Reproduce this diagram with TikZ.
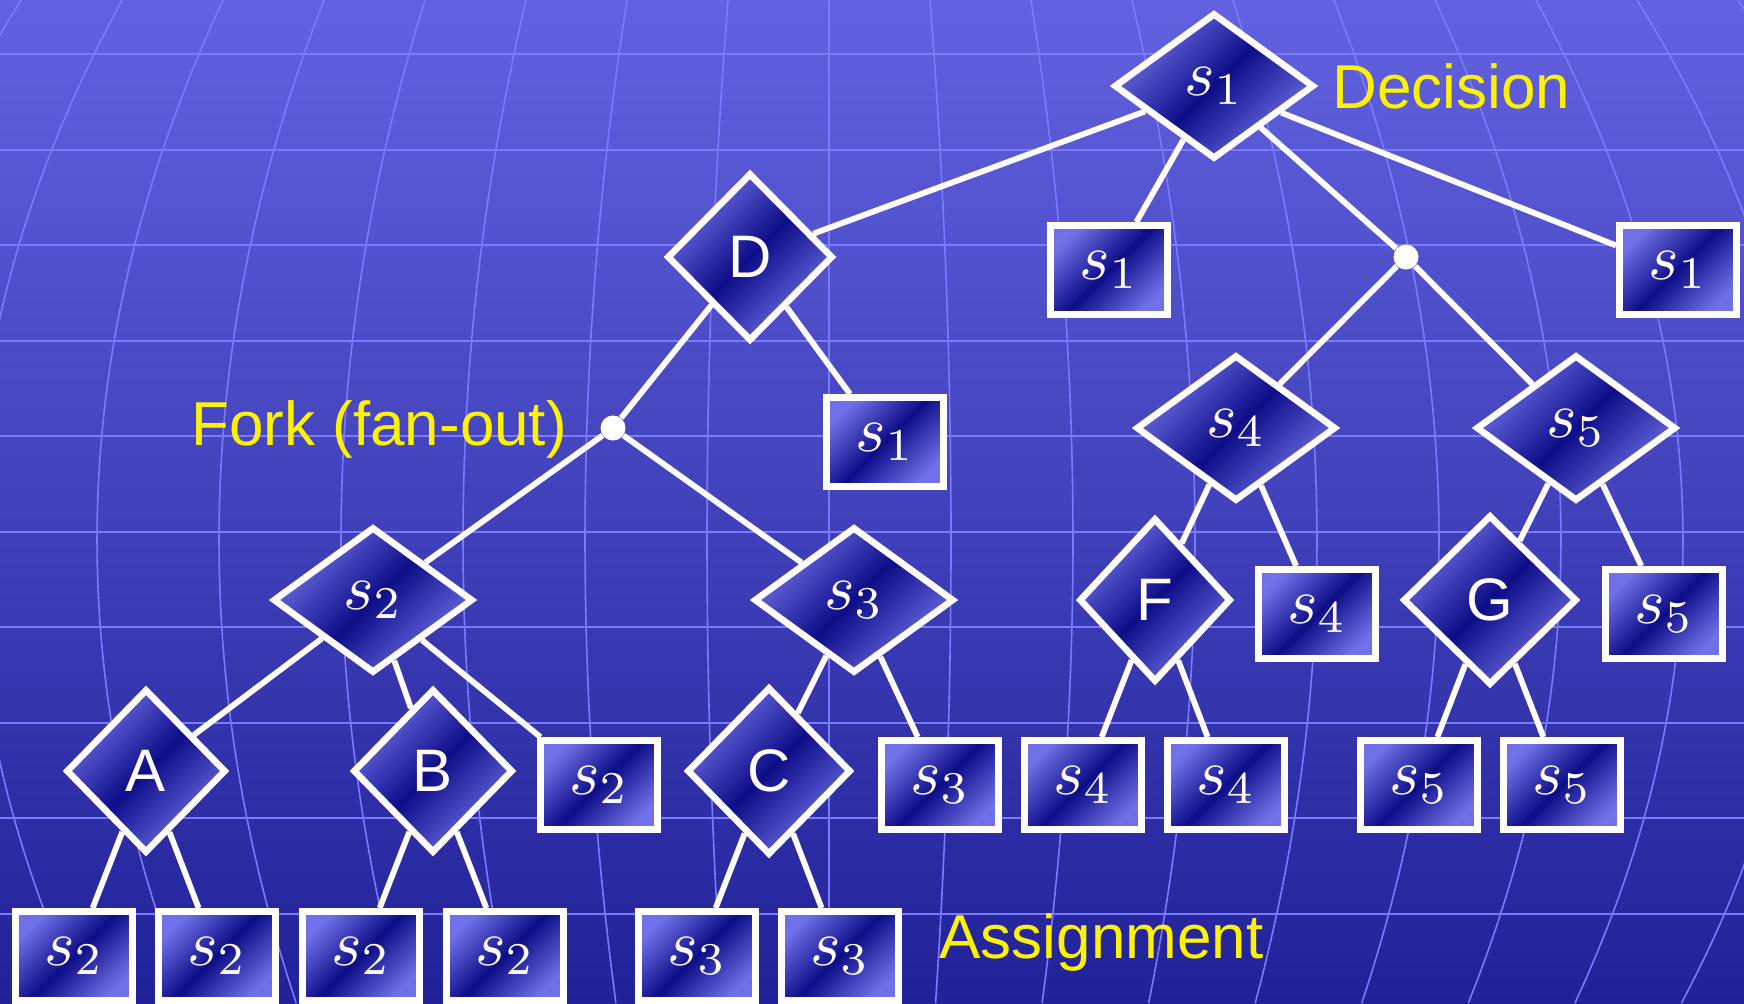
\RequirePackage{fix-cm}
\documentclass[tikz,border=0pt]{standalone}
\usepackage{fontspec}
\setsansfont{Liberation Sans}
\usepackage{tikz}
\usetikzlibrary{shapes.geometric}
\definecolor{bgtop}{RGB}{98,98,224}
\definecolor{bgbot}{RGB}{33,33,152}
\definecolor{cgrid}{RGB}{122,122,255}
\definecolor{clight}{RGB}{112,112,232}
\definecolor{cdark}{RGB}{13,13,136}
\colorlet{clabel}{yellow}
\newcommand{\sv}[1]{\scalebox{3.25}{$s_{#1}$}}
\tikzset{
  nodeshade/.style={draw=white, line width=3.3pt, top color=clight, bottom color=clight, middle color=cdark, shading angle=45, text=white, inner sep=0pt},
  sdec/.style={nodeshade, diamond, minimum width=100pt, minimum height=73pt},
  ldec/.style={nodeshade, diamond, minimum width=80pt, minimum height=82pt, font=\fontsize{30}{36}\selectfont\sffamily},
  leaf/.style={nodeshade, rectangle, minimum width=58.7pt, minimum height=44.7pt},
  fork/.style={circle, fill=white, minimum size=12.5pt, inner sep=0pt},
  link/.style={white, line width=2.9pt},
  tag/.style={clabel, anchor=base west, inner sep=0pt, font=\fontsize{31}{37}\selectfont\sffamily}
}

\begin{document}
\begin{tikzpicture}[x=0.5pt, y=-0.5pt]
\useasboundingbox (0,0) rectangle (1744,1003);
\shade[top color=bgtop, bottom color=bgbot] (0,0) rectangle (1744,1003);
\begin{scope}
\clip (0,0) rectangle (1744,1003);
\foreach \j in {0,...,9}
  \draw[cgrid, line width=1pt] (0,{54+95.5*\j}) -- (1744,{54+95.5*\j});
\foreach \k in {-9,...,9}
  \draw[cgrid, line width=0.8pt] plot[domain=0:1003, samples=40, variable=\t] ({829+122*\k-21*\k*((\t-540)/540)^2},{\t});
\end{scope}
\node[sdec] (top) at (1214,86) {\sv1};
\node[ldec, minimum width=83pt, minimum height=84pt] (D) at (750,257) {D};
\node[leaf] (b1) at (885,442) {\sv1};
\node[leaf] (b2) at (1109,270) {\sv1};
\node[leaf] (b3) at (1678,270) {\sv1};
\node[fork] (fk1) at (613,428) {};
\node[fork] (fk2) at (1406,257) {};
\node[sdec] (s2) at (373,600) {\sv2};
\node[sdec] (s3) at (854,600) {\sv3};
\node[sdec] (s4) at (1236,428) {\sv4};
\node[sdec] (s5) at (1576,428) {\sv5};
\node[ldec] (A) at (146,771) {A};
\node[ldec] (B) at (433,771) {B};
\node[ldec, minimum width=82pt, minimum height=84pt] (C) at (769,771) {C};
\node[ldec, minimum width=76pt] (F) at (1155,600) {F};
\node[ldec, minimum width=87pt, minimum height=85pt] (G) at (1490,600) {G};
\node[leaf] (c2) at (599,785) {\sv2};
\node[leaf] (c3) at (940,785) {\sv3};
\node[leaf] (c4) at (1317,614) {\sv4};
\node[leaf] (c5) at (1664,614) {\sv5};
\node[leaf] (l1) at (74,956) {\sv2};
\node[leaf] (l2) at (217,956) {\sv2};
\node[leaf] (l3) at (361,956) {\sv2};
\node[leaf] (l4) at (505,956) {\sv2};
\node[leaf] (l5) at (697,956) {\sv3};
\node[leaf] (l6) at (840,956) {\sv3};
\node[leaf] (m1) at (1083,785) {\sv4};
\node[leaf] (m2) at (1226,785) {\sv4};
\node[leaf] (m3) at (1419,785) {\sv5};
\node[leaf] (m4) at (1562,785) {\sv5};
\foreach \a/\b in {top/D, top/b2, top/fk2, top/b3, D/fk1, D/b1, fk1/s2, fk1/s3, fk2/s4, fk2/s5,
    s2/A, s2/B, s2/c2, A/l1, A/l2, B/l3, B/l4, s3/C, s3/c3, C/l5, C/l6,
    s4/F, s4/c4, F/m1, F/m2, s5/G, s5/c5, G/m3, G/m4}
  \draw[link] (\a) -- (\b);
\node[tag] (decision) at (1332,108) {Decision};
\node[tag] (forklabel) at (191,445) {Fork (fan-out)};
\node[tag] (assign) at (939,958) {Assignment};
\end{tikzpicture}
\end{document}
